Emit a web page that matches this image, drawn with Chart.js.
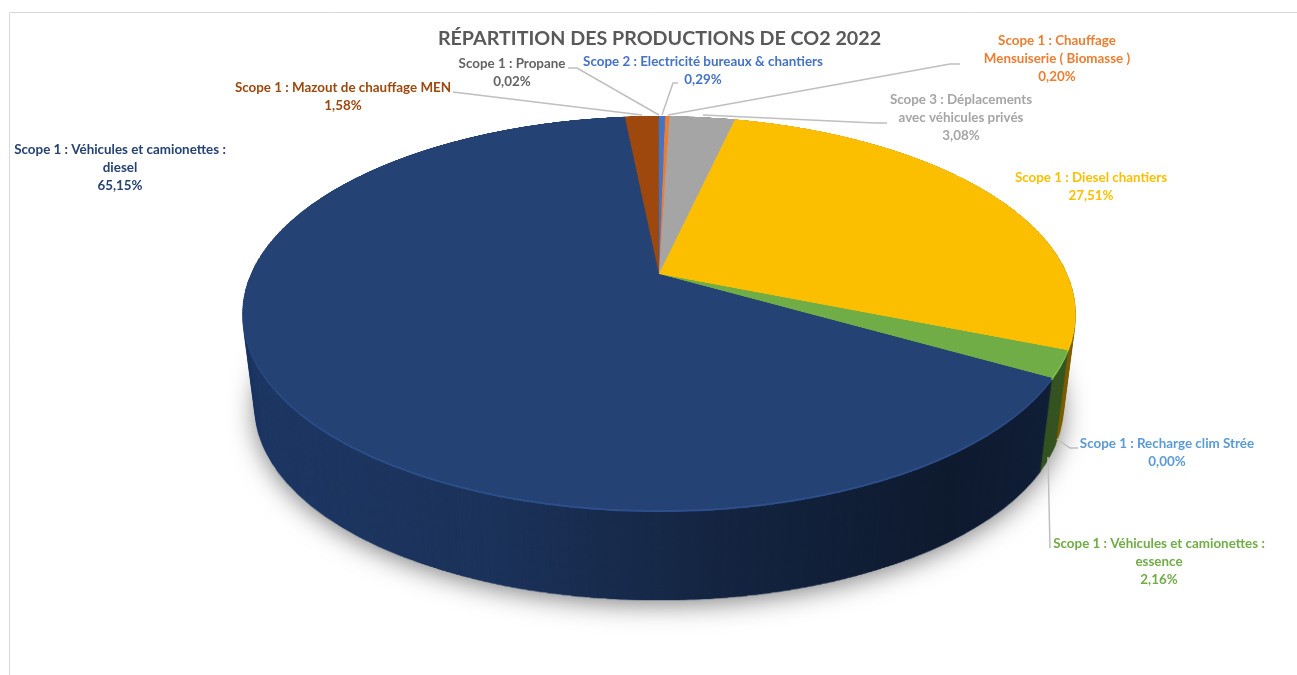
<!DOCTYPE html>
<html lang="fr">
<head>
<meta charset="utf-8">
<title>Répartition des productions de CO2 2022</title>
<script src="https://cdn.jsdelivr.net/npm/chart.js@4"></script>
<style>
  html, body { margin: 0; padding: 0; background: #ffffff; overflow: hidden; }
  canvas { display: block; }
</style>
</head>
<body>
<canvas id="chart" width="1297" height="675"></canvas>
<script>
// Data, clockwise from 12 o'clock
const categories = [
  'Scope 2 : Electricité bureaux & chantiers',
  'Scope 1 : Chauffage\nMensuiserie ( Biomasse )',
  'Scope 3 : Déplacements\navec véhicules privés',
  'Scope 1 : Diesel chantiers',
  'Scope 1 : Recharge clim Strée',
  'Scope 1 : Véhicules et camionettes :\nessence',
  'Scope 1 : Véhicules et camionettes :\ndiesel',
  'Scope 1 : Mazout de chauffage MEN',
  'Scope 1 : Propane'
];
const shares = [0.29, 0.20, 3.08, 27.51, 0.00, 2.16, 65.15, 1.58, 0.02];
const sliceColors = ['#4472c4', '#ed7d31', '#a5a5a5', '#fcbf00', '#5b9bd5', '#70ad47', '#254274', '#9e480e', '#636363'];

// Label layout: centre x and y of the first line, then the leader line
const labelPlaces = [
  { x: 703, y: 62, line: [[678, 83], [673, 83], [662, 115]] },
  { x: 1057, y: 41, line: [[960, 64], [950, 64], [668, 115]] },
  { x: 961, y: 100, line: [[887, 123], [875, 123], [703, 115]] },
  { x: 1091, y: 178 },
  { x: 1167, y: 444, line: [[1078, 448], [1070, 448], [1057, 439]] },
  { x: 1159, y: 544, line: [[1050, 548], [1048, 457]] },
  { x: 120, y: 150 },
  { x: 343, y: 88, line: [[453, 92], [642, 115]] },
  { x: 512, y: 64, line: [[568, 68], [577, 68], [659, 115]] }
];

// Perspective of the pie top: apex position, radii and foreshortening
const apexX = 659, apexY = 274;
const radiusX = 408, radiusY = 189.3, tilt = 0.198;
const depth = 96, bottomShrinkX = 0.03, bottomShrinkY = 0.025;

function newLayer(w, h) {
  const c = document.createElement('canvas');
  c.width = w;
  c.height = h;
  return c;
}

// Arcs come flat from Chart.js, then get resampled row by row into perspective
function topFace(chart, W, H) {
  const arcs = chart.getDatasetMeta(0).data;
  const size = 1000, mid = size / 2, R = 480;
  const flat = newLayer(size, size);
  const fc = flat.getContext('2d');
  const k = R / arcs[0].outerRadius;
  fc.setTransform(k, 0, 0, k, mid - arcs[0].x * k, mid - arcs[0].y * k);
  arcs.forEach(a => a.draw(fc));
  arcs.forEach(a => a.draw(fc));

  const face = newLayer(W, H);
  const c = face.getContext('2d');
  const rowV = y => {
    const t = (apexY - y) / radiusY;
    return t / (1 - tilt * t);
  };
  for (let y = 100; y < 530; y++) {
    const v = rowV(y + 0.5);
    if (Math.abs(v) > 1.01) continue;
    const sh = Math.max(0.01, (rowV(y) - rowV(y + 1)) * R);
    const s = radiusX / (1 + tilt * v) / R;
    c.drawImage(flat, 0, mid - v * R - sh / 2, size, sh, apexX - mid * s, y, size * s, 1);
  }
  return face;
}

const pie3d = {
  id: 'pie3d',
  beforeDraw(chart) {
    const ctx = chart.ctx;
    ctx.save();
    ctx.strokeStyle = '#d9d9d9';
    ctx.lineWidth = 1;
    ctx.beginPath();
    ctx.moveTo(9.5, chart.height);
    ctx.lineTo(9.5, 12.5);
    ctx.lineTo(chart.width, 12.5);
    ctx.stroke();
    ctx.restore();
  },
  beforeDatasetsDraw(chart) {
    const ctx = chart.ctx, W = chart.width, H = chart.height;
    const face = topFace(chart, W, H);

    const placeLayer = (c, t) => {
      const sx = 1 - bottomShrinkX * t, sy = 1 - bottomShrinkY * t;
      c.setTransform(sx, 0, 0, sy, apexX * (1 - sx), apexY + depth * t - apexY * sy);
    };

    // wall: stacked copies of the face, bottom first, shaded left to right
    const wall = newLayer(W, H);
    const wc = wall.getContext('2d');
    for (let i = depth; i >= 0; i--) {
      placeLayer(wc, i / depth);
      wc.drawImage(face, 0, 0);
    }
    wc.setTransform(1, 0, 0, 1, 0, 0);
    wc.globalCompositeOperation = 'source-atop';
    const shade = wc.createLinearGradient(243, 0, 1075, 0);
    shade.addColorStop(0, 'rgba(0,0,0,0.12)');
    shade.addColorStop(0.3, 'rgba(0,0,0,0.22)');
    shade.addColorStop(0.55, 'rgba(0,0,0,0.42)');
    shade.addColorStop(0.85, 'rgba(0,0,0,0.6)');
    shade.addColorStop(1, 'rgba(0,0,0,0.5)');
    wc.fillStyle = shade;
    wc.fillRect(0, 0, W, H);

    // soft shadow under the bottom edge
    ctx.save();
    ctx.shadowColor = 'rgba(0,0,0,0.5)';
    ctx.shadowBlur = 26;
    ctx.shadowOffsetY = 4;
    placeLayer(ctx, 1);
    ctx.drawImage(face, 0, 0);
    ctx.restore();

    ctx.drawImage(wall, 0, 0);

    // lighter bevel along the edge of the top face
    ctx.save();
    ctx.filter = 'brightness(1.22) blur(0.7px)';
    ctx.drawImage(face, 0, 2);
    ctx.restore();
    ctx.save();
    ctx.filter = 'blur(0.6px)';
    ctx.drawImage(face, 0, 0);
    ctx.restore();

    return false;
  },
  afterDraw(chart) {
    const ctx = chart.ctx;
    ctx.save();
    ctx.filter = 'blur(0.4px)';
    ctx.strokeStyle = '#bfbfbf';
    ctx.lineWidth = 1.5;
    labelPlaces.forEach(p => {
      if (!p.line) return;
      ctx.beginPath();
      p.line.forEach((pt, i) => i ? ctx.lineTo(pt[0], pt[1]) : ctx.moveTo(pt[0], pt[1]));
      ctx.stroke();
    });
    ctx.font = '700 13.4px Lato';
    ctx.textAlign = 'center';
    ctx.textBaseline = 'middle';
    categories.forEach((name, i) => {
      const pct = shares[i].toFixed(2).replace('.', ',') + '%';
      const lines = name.split('\n').concat(pct);
      ctx.fillStyle = sliceColors[i];
      lines.forEach((txt, n) => ctx.fillText(txt, labelPlaces[i].x, labelPlaces[i].y + n * 18));
    });
    ctx.restore();
  }
};

new Chart(document.getElementById('chart'), {
  type: 'pie',
  data: {
    labels: categories,
    datasets: [{
      data: shares,
      backgroundColor: sliceColors,
      borderWidth: 0
    }]
  },
  options: {
    responsive: false,
    animation: false,
    devicePixelRatio: 1,
    rotation: 0,
    layout: { padding: { left: 22 } },
    plugins: {
      legend: { display: false },
      tooltip: { enabled: false },
      title: {
        display: true,
        text: 'RÉPARTITION DES PRODUCTIONS DE CO2 2022',
        color: '#595959',
        font: { family: 'Lato', size: 19.7, weight: '700' },
        padding: { top: 27, bottom: 10 }
      }
    }
  },
  plugins: [pie3d]
});
</script>
</body>
</html>
